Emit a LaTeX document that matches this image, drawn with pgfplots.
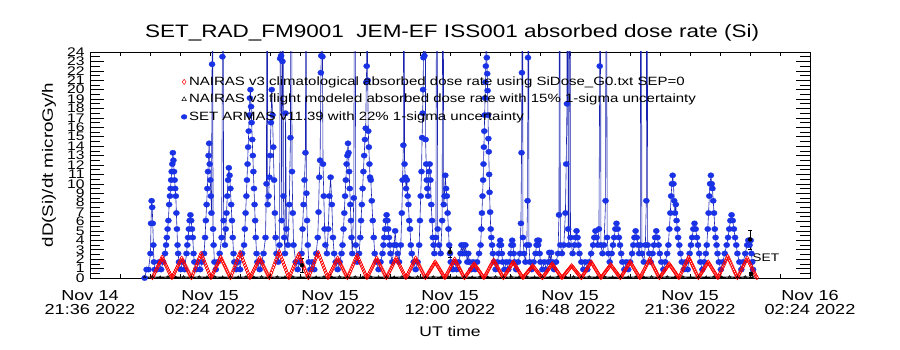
\documentclass[border=0pt]{standalone}
\usepackage{fontspec}
\setmainfont{Liberation Sans}[FakeStretch=1.25]
\usepackage{pgfplots}
\pgfplotsset{compat=1.18}
\definecolor{setblue}{RGB}{25,50,230}
\definecolor{setline}{RGB}{25,35,175}
\definecolor{nred}{RGB}{255,0,0}
\begin{document}
\begin{tikzpicture}
\useasboundingbox (-90pt,-72pt) rectangle (810pt,278pt);
% axis carrying the y ticks
\begin{axis}[scale only axis, width=720pt, height=226pt,
  xmin=0, xmax=369.231, ymin=0, ymax=24,
  xtick=\empty, ytick={0,1,...,24}, minor y tick num=1,
  major tick length=14pt, minor tick length=10pt, tick align=inside,
  tick style={black, line width=0.6pt}, axis line style={draw=none},
  /pgf/number format/assume math mode=true,
  yticklabel style={font=\fontsize{12.5}{12.5}\selectfont, xshift=-2pt}]
\addplot[draw=none] coordinates {(0,0)};
\end{axis}
% main axis
\begin{axis}[scale only axis, width=720pt, height=226pt,
  xmin=0, xmax=369.231, ymin=0, ymax=24, ytick=\empty,
  xtick={0,61.538,123.077,184.615,246.154,307.692,369.231},
  xticklabels={{Nov 14\\21:36 2022},{Nov 15\\02:24 2022},{Nov 15\\07:12 2022},{Nov 15\\12:00 2022},{Nov 15\\16:48 2022},{Nov 15\\21:36 2022},{Nov 16\\02:24 2022}},
  minor xtick={15.385,30.769,46.154,76.923,92.308,107.692,138.462,153.846,169.231,200,215.385,230.769,261.538,276.923,292.308,323.077,338.462,353.846},
  major tick length=4pt, minor tick length=4pt, tick align=inside,
  tick style={black, line width=0.6pt}, axis line style={black, line width=0.8pt},
  xticklabel style={align=center, font=\fontsize{14.5}{14}\selectfont, yshift=-9pt},
  title={SET\_RAD\_FM9001\hspace{0.7em}JEM-EF ISS001 absorbed dose rate (Si)},
  title style={at={(axis description cs:0.503,1.0398)}, anchor=base, font=\fontsize{18}{18}\selectfont},
  xlabel={UT time},
  xlabel style={at={(axis description cs:0.5,-0.261)}, anchor=base, font=\fontsize{14}{14}\selectfont},
  ylabel={dD(Si)/dt microGy/h},
  ylabel style={at={(axis description cs:-0.0514,0.5)}, anchor=base, font=\fontsize{15}{15}\selectfont},
  legend style={at={(axis description cs:0.1265,0.900)}, anchor=north west, draw=none, fill=none,
    font=\fontsize{12}{12}\selectfont, row sep=3.3pt, inner sep=0pt, nodes={inner sep=2pt}},
  legend cell align=left,
  legend image code/.code={\draw[#1] plot coordinates {(0cm,0cm)};},
]
% SET ARMAS (blue)
\addplot[forget plot, color=setline, line width=0.6pt, mark=*, mark size=2.7pt,
  mark options={fill=setblue, draw=setblue, xscale=1.15, line width=0.3pt}] coordinates {
(28,0)(29,0.9)(30,0.9)
(31,2.6)(31.3,5.8)(31.6,8.2)(31.9,7.5)(32.2,5.8)(32.5,3.5)(32.8,1.7)(33.2,0.9)
(34.5,0.9)(35.5,1.7)(36.5,0.9)(37.5,1.7)(38.5,2.6)
(39,3.5)(39.4,4.3)(39.8,5.2)(40.2,6.1)(40.6,7.8)(41,8.7)(41.3,9.5)(41.6,10.4)(41.9,11.3)(42.2,12.1)(42.5,13.3)(42.8,12.5)(43.1,11.3)(43.4,10.4)(43.7,9.5)(44,8.7)(44.3,6.9)(44.6,5.2)(44.9,3.5)(45.2,2.6)(45.6,1.7)
(46.5,0.9)(47.5,1.7)(48.5,0.9)
(49.5,2.6)(49.9,3.5)(50.3,4.3)(50.7,5.2)(51.1,6.1)(51.5,6.7)(51.9,6.1)(52.3,5.2)(52.7,4.3)(53.1,2.6)(53.5,1.7)
(54.5,0.9)(55.5,1.7)(56.5,0.9)(57.5,1.7)
(58.5,2.6)(59,4.3)(59.4,6.1)(59.8,7.8)(60.2,9.5)(60.5,11.3)(60.8,13.0)(61.1,14.3)(61.4,12.1)(61.7,10.4)(62,8.7)(62.3,6.9)(62.6,22.7)(62.8,45)(63.1,5.2)(63.4,3.5)(63.8,1.7)
(64.5,0.9)(65.5,1.7)(66.5,2.6)
(67.5,4.3)(67.9,23.5)(68.2,50)(68.5,6.1)
(69.2,3.5)(69.6,5.2)(70,6.9)(70.4,8.7)(70.8,10.4)(71.2,11.7)(71.6,10.9)(72,9.5)(72.4,7.8)(72.8,6.1)(73.2,4.3)(73.6,2.6)(74,1.7)
(75,0.9)(76,1.7)(77,0.9)(78,2.6)
(79,3.5)(79.4,5.2)(79.8,6.9)(80.2,8.7)(80.5,10.4)(80.8,12.1)(81.1,13.9)(81.4,15.6)(81.7,17.3)(82,19.1)(82.3,20)(82.6,18.2)(82.9,16.5)(83.2,14.7)(83.5,13.0)(83.8,11.3)(84.1,9.5)(84.4,7.8)(84.7,6.1)(85,4.3)(85.4,2.6)(85.8,1.7)
(87,0.9)(88,1.7)(89,2.6)
(90,4.3)(90.5,10)(90.8,60)(91.1,7.8)
(91.6,8.7)(92,10.7)(92.4,13.0)(92.8,16.5)(93.2,20)(93.6,17.3)(94,13.9)(94.4,10.4)(94.8,6.9)(95.2,4.3)(95.6,2.6)
(96.5,1.7)(97.2,3.5)(97.5,23.3)(97.7,55)(98,23.6)(98.3,6.1)(98.7,23)(98.9,48)(99.2,8.7)(99.6,4.3)(100,2.6)(100.3,17.5)(100.7,5.2)
(101.5,3.5)(102.2,7.8)(102.8,14.9)(103.2,65)(103.6,11.3)(104,6.9)(104.4,3.5)
(105.5,1.7)(106.5,0.9)(107.5,1.7)
(108.5,2.6)(109,5.2)(109.5,7.8)(110,10.4)(110.5,13.3)(110.7,45)(111,9.0)(111.3,6.1)(111.7,3.5)(112.2,1.7)
(113,0.9)(114,1.7)(115,0.9)(116,2.6)
(116.8,4.3)(117.2,7.0)(117.6,10.7)(118,12.5)(118.4,21.8)(118.6,23.6)(118.8,70)(119.2,23.5)(119.5,12.1)(119.9,8.7)(120.3,5.2)(120.7,3.5)
(121.5,2.6)(122.2,5.2)(122.8,8.7)(123.4,10.7)(124,7.8)(124.6,4.3)(125.2,2.6)(126,1.7)
(127,0.9)(128,1.7)
(129,2.6)(129.5,3.5)(130,5.2)(130.4,6.9)(130.8,8.7)(131.2,10.4)(131.6,12.1)(132,13.0)(132.3,14.3)(132.6,13.3)(132.9,11.3)(133.2,9.5)(133.5,7.8)(133.8,6.1)(134.1,4.3)(134.5,2.6)
(135.3,8.5)(135.8,55)(136.3,3.5)
(137,1.7)(138,2.6)(138.6,4.3)(139,6.1)(139.4,7.8)(139.8,9.5)(140.2,11.3)(140.6,13.0)(141,14.7)(141.4,15.9)(141.7,20.8)(141.9,22.5)(142.1,60)(142.4,21)(142.7,15.6)(143,13.9)(143.3,12.1)(143.6,10.7)
(144,10.4)(144.5,8.2)(145,6.1)(145.5,4.3)(146,2.6)(146.8,1.7)
(148,0.9)(149,1.7)
(150,2.6)(150.5,3.5)(150.9,4.3)(151.3,5.2)(151.7,6.1)(152.1,6.7)(152.5,6.1)(152.9,5.2)(153.3,4.3)(153.7,3.5)(154.1,2.6)
(155,1.7)(156,3.5)(156.5,5.0)(157,3.5)(157.8,2.6)(158.5,1.7)
(159.4,3.5)(159.9,6.9)(160.3,10.4)(160.7,14.1)(161,70)(161.3,12.1)
(161.7,10.7)(162.1,9.5)(162.5,10.4)(162.9,8.7)(163.3,7.8)(163.7,6.1)(164.1,5.2)(164.5,3.5)(165,2.6)
(166,1.7)(167,0.9)(168,1.7)
(168.8,3.5)(169.2,6.1)(169.6,8.7)(170,11.3)(170.3,14.9)(170.6,17.5)(170.8,20)(171,23.4)(171.2,65)(171.5,23.6)(171.8,50)(172.1,14.7)(172.4,12.1)(172.7,10.4)(173,9.5)
(173.4,8.7)(173.8,11.3)(174.2,12.1)(174.6,10.4)(175,7.8)(175.4,6.1)(175.8,4.3)(176.2,3.5)(176.6,2.6)(177.4,4.3)(177.9,55)(178.3,5.2)(179,3.5)(179.8,2.6)(180.6,6.1)(181,50)(181.4,7.8)
(181.8,8.7)(182.2,10.9)(182.6,9.5)(183,8.7)(183.4,6.9)(183.8,5.2)(184.2,3.5)(184.6,2.6)(185,1.7)
(186,0.9)(187,1.7)(188,0.9)(189,1.7)
(190,2.6)(190.5,3.5)(191,2.6)(191.5,3.5)(192,2.6)(192.5,3.5)(193,2.6)(193.5,1.7)(194,2.6)(194.6,1.7)
(195.5,0.9)(196.5,1.7)(197.5,0.9)(198.5,1.7)(199.5,2.6)
(200.3,3.5)(200.7,5.2)(201,6.9)(201.3,8.7)(201.6,10.4)(201.8,12.1)(202,13.9)(202.2,15.6)(202.4,17.3)(202.6,19.1)(202.8,20.8)(203,22.5)(203.2,70)(203.5,23.4)(203.7,21.7)(203.9,19.9)(204.1,17.3)(204.3,14.8)(204.5,13.4)(204.7,11.0)
(204.9,9.1)(205.2,7.0)(205.5,5.2)(205.8,4.3)(206.2,3.5)(206.6,2.6)(207.2,1.7)
(208,0.9)(209,1.7)
(209.6,2.6)(210,3.5)(210.4,4.0)(210.8,3.5)(211.2,2.6)(211.6,1.7)(212.5,0.9)(213.5,1.7)(214.5,0.9)(215.2,1.7)
(215.7,2.6)(216.1,3.5)(216.5,4.0)(216.9,3.5)(217.3,2.6)(217.7,1.7)(218.5,0.9)(219.5,1.7)(220.5,2.6)
(221,5.8)(221.3,13.3)(221.5,21.8)(221.7,60)(222,4.3)(222.6,2.6)(223.3,1.7)
(224,3.5)(224.4,8.2)(224.6,23.4)(224.8,55)(225.1,3.5)(225.6,1.7)(226.5,0.9)(227.5,1.7)
(228.5,2.6)(229,3.5)(229.4,4.0)(229.8,3.5)(230.2,4.0)(230.6,2.6)(231,1.7)(232,0.9)(233,1.7)(234,0.9)
(235,1.7)(235.5,2.7)(236,1.7)(236.5,2.7)(237,1.7)(238,0.9)(239,1.7)
(240,2.6)(240.5,6.7)(240.8,50)(241.2,3.5)(242,2.6)(243,3.5)
(243.8,6.9)(244.2,12.1)(244.6,18.5)(244.9,65)(245.2,5.2)(245.6,3.5)(246,60)(246.4,4.3)
(247.5,2.6)(248.5,3.5)(249,4.3)(249.5,5.0)(250,4.3)(250.5,3.5)(251,2.6)(252,1.7)(253,0.9)(254,1.7)(255,0.9)(256,1.7)(257,2.6)
(258,3.5)(258.6,4.3)(259.2,5.0)(259.8,4.3)(260.4,3.5)(261,5.2)(261.4,22.5)(261.6,60)(262,3.5)(262.8,2.6)(263.6,3.5)(264.4,8.2)(264.8,55)(265.2,4.3)(265.8,2.6)(266.5,1.7)
(267.5,2.6)(268.2,3.5)(268.8,4.3)(269.4,5.2)(270,5.8)(270.6,5.2)(271.2,4.3)(271.8,3.5)(272.4,2.6)(273,1.7)(274,0.9)(275,1.7)(276,0.9)(277,1.7)
(278,2.6)(278.6,3.5)(279.2,4.3)(279.8,5.0)(280.4,4.3)(281,3.5)(281.6,2.6)
(282.2,3.5)(282.6,70)(283,2.6)
(284,1.7)(284.8,3.5)(285.3,8.2)(285.6,55)(286,3.5)(286.8,2.6)(287.5,1.7)
(288.5,2.6)(289.2,3.5)(289.8,4.3)(290.4,5.0)(291,4.3)(291.6,3.5)(292.2,2.6)(293,1.7)(294,0.9)(295,1.7)
(296,2.6)(296.6,3.5)(297.1,5.2)(297.6,6.9)(298,8.7)(298.4,10.0)(298.8,10.9)(299.2,10.0)(299.6,8.2)(300,6.9)(300.4,7.8)(300.8,6.1)(301.2,5.2)(301.6,4.3)(302.2,3.5)(302.8,2.6)(303.5,1.7)(304.5,0.9)(305.5,1.7)(306.5,0.9)
(307.5,2.6)(308.2,3.5)(308.8,4.3)(309.4,5.2)(310,5.8)(310.6,5.2)(311.2,4.3)(311.8,3.5)(312.4,2.6)(313,1.7)(314,0.9)(315,1.7)
(315.8,2.6)(316.3,3.5)(316.8,5.2)(317.2,6.9)(317.6,8.7)(318,10.0)(318.4,10.9)(318.8,10.0)(319.2,9.5)(319.6,8.2)(320,6.9)(320.4,5.2)(320.8,4.3)(321.3,3.5)(321.8,2.6)(322.5,1.7)(323.5,0.9)(324.5,1.7)(325.5,2.6)
(326.5,3.5)(327.2,4.3)(327.8,5.2)(328.4,6.1)(329,6.7)(329.6,6.1)(330.2,5.2)(330.8,4.3)(331.4,3.5)(332,2.6)(333,1.7)(334,0.9)(335,1.7)(336,2.6)
(337,3.5)(337.6,4.0)(338.2,3.5)(338.8,4.0)(339.2,2.6)(339.6,1.7)(340,0.9)
};
% NAIRAS climatological (red)
\addplot[forget plot, only marks, mark=diamond, mark size=2.2pt, color=nred, mark options={line width=0.6pt}] coordinates {
(32,0.05)(32.5,0.22)(33,0.44)(33.5,0.66)(34,0.88)(34.5,1.1)(35,1.32)(35.5,1.54)(36,1.76)(36.5,1.98)(37,2.2)(37.5,1.98)(38,1.76)(38.5,1.54)(39,1.32)(39.5,1.1)(40,0.88)(40.5,0.66)(41,0.44)(41.5,0.22)
(42,0.05)(42.5,0.21)(43,0.42)(43.5,0.63)(44,0.84)(44.5,1.05)(45,1.26)(45.5,1.47)(46,1.68)(46.5,1.89)(47,2.1)(47.5,1.89)(48,1.68)(48.5,1.47)(49,1.26)(49.5,1.05)(50,0.84)(50.5,0.63)(51,0.42)(51.5,0.21)
(52,0.05)(52.5,0.26)(53,0.52)(53.5,0.78)(54,1.04)(54.5,1.3)(55,1.56)(55.5,1.82)(56,2.08)(56.5,2.34)(57,2.6)(57.5,2.34)(58,2.08)(58.5,1.82)(59,1.56)(59.5,1.3)(60,1.04)(60.5,0.78)(61,0.52)(61.5,0.26)
(62,0.05)(62.5,0.22)(63,0.44)(63.5,0.66)(64,0.88)(64.5,1.1)(65,1.32)(65.5,1.54)(66,1.76)(66.5,1.98)(67,2.2)(67.5,1.98)(68,1.76)(68.5,1.54)(69,1.32)(69.5,1.1)(70,0.88)(70.5,0.66)(71,0.44)(71.5,0.22)
(72,0.05)(72.5,0.27)(73,0.54)(73.5,0.81)(74,1.08)(74.5,1.35)(75,1.62)(75.5,1.89)(76,2.16)(76.5,2.43)(77,2.7)(77.5,2.43)(78,2.16)(78.5,1.89)(79,1.62)(79.5,1.35)(80,1.08)(80.5,0.81)(81,0.54)(81.5,0.27)
(82,0.05)(82.5,0.21)(83,0.42)(83.5,0.63)(84,0.84)(84.5,1.05)(85,1.26)(85.5,1.47)(86,1.68)(86.5,1.89)(87,2.1)(87.5,1.89)(88,1.68)(88.5,1.47)(89,1.26)(89.5,1.05)(90,0.84)(90.5,0.63)(91,0.42)(91.5,0.21)
(92,0.05)(92.5,0.28)(93,0.56)(93.5,0.84)(94,1.12)(94.5,1.4)(95,1.68)(95.5,1.96)(96,2.24)(96.5,2.52)(97,2.8)(97.5,2.52)(98,2.24)(98.5,1.96)(99,1.68)(99.5,1.4)(100,1.12)(100.5,0.84)(101,0.56)(101.5,0.28)
(102,0.05)(102.5,0.25)(103,0.5)(103.5,0.75)(104,1)(104.5,1.25)(105,1.5)(105.5,1.75)(106,2)(106.5,2.25)(107,2.5)(107.5,2.25)(108,2)(108.5,1.75)(109,1.5)(109.5,1.25)(110,1)(110.5,0.75)(111,0.5)(111.5,0.25)
(112,0.05)(112.5,0.27)(113,0.54)(113.5,0.81)(114,1.08)(114.5,1.35)(115,1.62)(115.5,1.89)(116,2.16)(116.5,2.43)(117,2.7)(117.5,2.43)(118,2.16)(118.5,1.89)(119,1.62)(119.5,1.35)(120,1.08)(120.5,0.81)(121,0.54)(121.5,0.27)
(122,0.05)(122.5,0.21)(123,0.42)(123.5,0.63)(124,0.84)(124.5,1.05)(125,1.26)(125.5,1.47)(126,1.68)(126.5,1.89)(127,2.1)(127.5,1.89)(128,1.68)(128.5,1.47)(129,1.26)(129.5,1.05)(130,0.84)(130.5,0.63)(131,0.42)(131.5,0.21)
(132,0.05)(132.5,0.24)(133,0.48)(133.5,0.72)(134,0.96)(134.5,1.2)(135,1.44)(135.5,1.68)(136,1.92)(136.5,2.16)(137,2.4)(137.5,2.16)(138,1.92)(138.5,1.68)(139,1.44)(139.5,1.2)(140,0.96)(140.5,0.72)(141,0.48)(141.5,0.24)
(142,0.05)(142.5,0.21)(143,0.42)(143.5,0.63)(144,0.84)(144.5,1.05)(145,1.26)(145.5,1.47)(146,1.68)(146.5,1.89)(147,2.1)(147.5,1.89)(148,1.68)(148.5,1.47)(149,1.26)(149.5,1.05)(150,0.84)(150.5,0.63)(151,0.42)(151.5,0.21)
(152,0.05)(152.5,0.21)(153,0.42)(153.5,0.63)(154,0.84)(154.5,1.05)(155,1.26)(155.5,1.47)(156,1.68)(156.5,1.89)(157,2.1)(157.5,1.89)(158,1.68)(158.5,1.47)(159,1.26)(159.5,1.05)(160,0.84)(160.5,0.63)(161,0.42)(161.5,0.21)
(162,0.05)(162.5,0.21)(163,0.42)(163.5,0.63)(164,0.84)(164.5,1.05)(165,1.26)(165.5,1.47)(166,1.68)(166.5,1.89)(167,2.1)(167.5,1.89)(168,1.68)(168.5,1.47)(169,1.26)(169.5,1.05)(170,0.84)(170.5,0.63)(171,0.42)(171.5,0.21)
(172,0.05)(172.5,0.17)(173,0.34)(173.5,0.51)(174,0.68)(174.5,0.85)(175,1.02)(175.5,1.19)(176,1.36)(176.5,1.53)(177,1.7)(177.5,1.53)(178,1.36)(178.5,1.19)(179,1.02)(179.5,0.85)(180,0.68)(180.5,0.51)(181,0.34)(181.5,0.17)
(182,0.05)(182.5,0.2)(183,0.4)(183.5,0.6)(184,0.8)(184.5,1)(185,1.2)(185.5,1.4)(186,1.6)(186.5,1.8)(187,2)(187.5,1.8)(188,1.6)(188.5,1.4)(189,1.2)(189.5,1)(190,0.8)(190.5,0.6)(191,0.4)(191.5,0.2)
(192,0.05)(192.5,0.15)(193,0.3)(193.5,0.45)(194,0.6)(194.5,0.75)(195,0.9)(195.5,1.05)(196,1.2)(196.5,1.35)(197,1.5)(197.5,1.35)(198,1.2)(198.5,1.05)(199,0.9)(199.5,0.75)(200,0.6)(200.5,0.45)(201,0.3)(201.5,0.15)
(202,0.05)(202.5,0.19)(203,0.38)(203.5,0.57)(204,0.76)(204.5,0.95)(205,1.14)(205.5,1.33)(206,1.52)(206.5,1.71)(207,1.9)(207.5,1.71)(208,1.52)(208.5,1.33)(209,1.14)(209.5,0.95)(210,0.76)(210.5,0.57)(211,0.38)(211.5,0.19)
(212,0.05)(212.5,0.17)(213,0.34)(213.5,0.51)(214,0.68)(214.5,0.85)(215,1.02)(215.5,1.19)(216,1.36)(216.5,1.53)(217,1.7)(217.5,1.53)(218,1.36)(218.5,1.19)(219,1.02)(219.5,0.85)(220,0.68)(220.5,0.51)(221,0.34)(221.5,0.17)
(222,0.05)(222.5,0.13)(223,0.26)(223.5,0.39)(224,0.52)(224.5,0.65)(225,0.78)(225.5,0.91)(226,1.04)(226.5,1.17)(227,1.3)(227.5,1.17)(228,1.04)(228.5,0.91)(229,0.78)(229.5,0.65)(230,0.52)(230.5,0.39)(231,0.26)(231.5,0.13)
(232,0.05)(232.5,0.15)(233,0.3)(233.5,0.45)(234,0.6)(234.5,0.75)(235,0.9)(235.5,1.05)(236,1.2)(236.5,1.35)(237,1.5)(237.5,1.35)(238,1.2)(238.5,1.05)(239,0.9)(239.5,0.75)(240,0.6)(240.5,0.45)(241,0.3)(241.5,0.15)
(242,0.05)(242.5,0.13)(243,0.26)(243.5,0.39)(244,0.52)(244.5,0.65)(245,0.78)(245.5,0.91)(246,1.04)(246.5,1.17)(247,1.3)(247.5,1.17)(248,1.04)(248.5,0.91)(249,0.78)(249.5,0.65)(250,0.52)(250.5,0.39)(251,0.26)(251.5,0.13)
(252,0.05)(252.5,0.17)(253,0.34)(253.5,0.51)(254,0.68)(254.5,0.85)(255,1.02)(255.5,1.19)(256,1.36)(256.5,1.53)(257,1.7)(257.5,1.53)(258,1.36)(258.5,1.19)(259,1.02)(259.5,0.85)(260,0.68)(260.5,0.51)(261,0.34)(261.5,0.17)
(262,0.05)(262.5,0.14)(263,0.28)(263.5,0.42)(264,0.56)(264.5,0.7)(265,0.84)(265.5,0.98)(266,1.12)(266.5,1.26)(267,1.4)(267.5,1.26)(268,1.12)(268.5,0.98)(269,0.84)(269.5,0.7)(270,0.56)(270.5,0.42)(271,0.28)(271.5,0.14)
(272,0.05)(272.5,0.17)(273,0.34)(273.5,0.51)(274,0.68)(274.5,0.85)(275,1.02)(275.5,1.19)(276,1.36)(276.5,1.53)(277,1.7)(277.5,1.53)(278,1.36)(278.5,1.19)(279,1.02)(279.5,0.85)(280,0.68)(280.5,0.51)(281,0.34)(281.5,0.17)
(282,0.05)(282.5,0.2)(283,0.4)(283.5,0.6)(284,0.8)(284.5,1)(285,1.2)(285.5,1.4)(286,1.6)(286.5,1.8)(287,2)(287.5,1.8)(288,1.6)(288.5,1.4)(289,1.2)(289.5,1)(290,0.8)(290.5,0.6)(291,0.4)(291.5,0.2)
(292,0.05)(292.5,0.15)(293,0.3)(293.5,0.45)(294,0.6)(294.5,0.75)(295,0.9)(295.5,1.05)(296,1.2)(296.5,1.35)(297,1.5)(297.5,1.35)(298,1.2)(298.5,1.05)(299,0.9)(299.5,0.75)(300,0.6)(300.5,0.45)(301,0.3)(301.5,0.15)
(302,0.05)(302.5,0.22)(303,0.44)(303.5,0.66)(304,0.88)(304.5,1.1)(305,1.32)(305.5,1.54)(306,1.76)(306.5,1.98)(307,2.2)(307.5,1.98)(308,1.76)(308.5,1.54)(309,1.32)(309.5,1.1)(310,0.88)(310.5,0.66)(311,0.44)(311.5,0.22)
(312,0.05)(312.5,0.17)(313,0.34)(313.5,0.51)(314,0.68)(314.5,0.85)(315,1.02)(315.5,1.19)(316,1.36)(316.5,1.53)(317,1.7)(317.5,1.53)(318,1.36)(318.5,1.19)(319,1.02)(319.5,0.85)(320,0.68)(320.5,0.51)(321,0.34)(321.5,0.17)
(322,0.05)(322.5,0.23)(323,0.46)(323.5,0.69)(324,0.92)(324.5,1.15)(325,1.38)(325.5,1.61)(326,1.84)(326.5,2.07)(327,2.3)(327.5,2.07)(328,1.84)(328.5,1.61)(329,1.38)(329.5,1.15)(330,0.92)(330.5,0.69)(331,0.46)(331.5,0.23)
(332,0.05)(332.5,0.21)(333,0.42)(333.5,0.63)(334,0.84)(334.5,1.05)(335,1.26)(335.5,1.47)(336,1.68)(336.5,1.89)(337,2.1)(337.5,1.89)(338,1.68)(338.5,1.47)(339,1.26)(339.5,1.05)(340,0.84)(340.5,0.63)(341,0.42)(341.5,0.21)(342,0.05)
};
% NAIRAS flight modeled (black)
\addplot[forget plot, black, line width=1.2pt, mark=triangle, mark size=1.5pt, mark options={line width=0.5pt}] coordinates {
(28,0.08)(32,0.1)(36,0.08)(40,0.1)(44,0.08)(48,0.1)(52,0.08)(56,0.1)(60,0.08)(64,0.1)(68,0.08)(72,0.1)(76,0.08)(80,0.1)(84,0.08)(88,0.1)(92,0.08)(96,0.1)(100,0.08)(104,0.1)
(108,0.08)(112,0.1)(116,0.08)(120,0.1)(124,0.08)(128,0.1)(132,0.08)(136,0.1)(140,0.08)(144,0.1)(148,0.08)(152,0.1)(156,0.08)(160,0.1)(164,0.08)(168,0.1)(172,0.08)(176,0.1)(180,0.08)(184,0.1)
(188,0.08)(192,0.1)(196,0.08)(200,0.1)(204,0.08)(208,0.1)(212,0.08)(216,0.1)(220,0.08)(224,0.1)(228,0.08)(232,0.1)(236,0.08)(240,0.1)(244,0.08)(248,0.1)(252,0.08)(256,0.1)(260,0.08)(264,0.1)
(268,0.08)(272,0.1)(276,0.08)(280,0.1)(284,0.08)(288,0.1)(292,0.08)(296,0.1)(300,0.08)(304,0.1)(308,0.08)(312,0.1)(316,0.08)(320,0.1)(324,0.08)(328,0.1)(332,0.08)(336,0.1)(340,0.08)
};
% uncertainty bars
\addplot[forget plot, only marks, mark=none, error bars/.cd, y dir=both, y explicit,
  error bar style={black, line width=0.7pt}] coordinates {
(108.7,1.35) +- (0,0.75)
(184.6,2.75) +- (0,0.55)
(338.5,4.1) +- (0,1.0)
(339,0.45) +- (0,0.12)
};
\node[anchor=west, inner sep=0pt, font=\fontsize{11}{11}\selectfont] at (axis cs:339.6,2.2) {SET};
\addlegendimage{nred, mark=diamond, mark size=2.6pt, mark options={line width=0.5pt}}
\addlegendentry{NAIRAS v3 climatological absorbed dose rate using SiDose\_G0.txt SEP=0}
\addlegendimage{black, mark=triangle, mark size=2.6pt, mark options={line width=0.5pt}}
\addlegendentry{NAIRAS v3 flight modeled absorbed dose rate with 15\% 1-sigma uncertainty}
\addlegendimage{setblue, mark=*, mark size=2.4pt, mark options={fill=setblue, xscale=1.2}}
\addlegendentry{SET ARMAS v11.39 with 22\% 1-sigma uncertainty}
\end{axis}
\end{tikzpicture}
\end{document}
